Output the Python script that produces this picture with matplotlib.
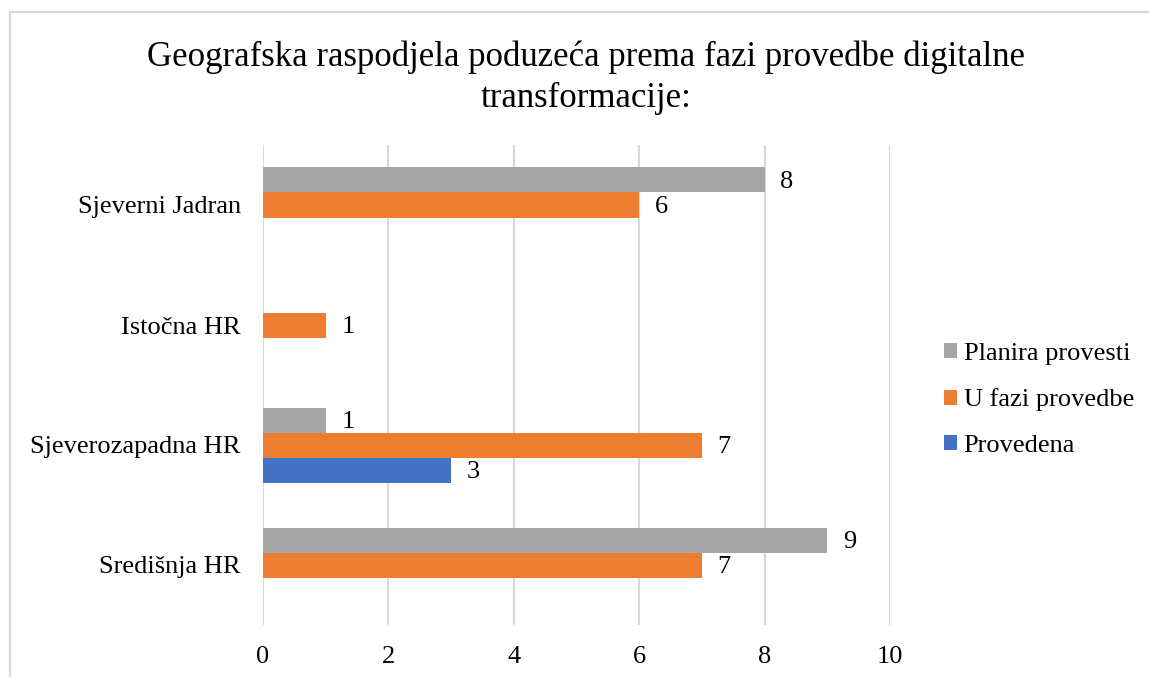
import matplotlib.pyplot as plt
import matplotlib.patches as mpatches
import numpy as np

regions = ['Središnja HR', 'Sjeverozapadna HR', 'Istočna HR', 'Sjeverni Jadran']
provedena = [0, 3, 0, 0]
u_fazi = [7, 7, 1, 6]
planira = [9, 1, 0, 8]
x_ticks = [0, 2, 4, 6, 8, 10]

c_blue = '#4472C4'
c_orange = '#ED7D31'
c_gray = '#A5A5A5'
grid_c = '#D9D9D9'

plt.rcParams['font.family'] = ['Liberation Serif', 'DejaVu Serif']
fs = 19

fig = plt.figure(figsize=(11.49, 6.77), dpi=100)
ax = fig.add_axes([263 / 1149, 1 - 625 / 677, (890 - 263) / 1149, (625 - 145) / 677])

y = np.arange(len(regions))
h = 25 / 120
series = [(provedena, -h, c_blue, 'Provedena'),
          (u_fazi, 0, c_orange, 'U fazi provedbe'),
          (planira, h, c_gray, 'Planira provesti')]

for vals, off, col, name in series:
    bars = ax.barh(y + off, vals, height=h, color=col, label=name, zorder=3)
    for b, v in zip(bars, vals):
        if v > 0:
            ax.text(v + 0.25, b.get_y() + b.get_height() / 2 - 0.02, str(v),
                    va='center', ha='left', fontsize=fs, color='#000000')

ax.set_xlim(0, 10)
ax.set_ylim(-0.5, 3.5)
ax.set_xticks(x_ticks)
ax.set_yticks(y)
ax.set_yticklabels(regions)
ax.tick_params(axis='both', length=0, labelsize=fs)
ax.tick_params(axis='y', pad=16)
ax.tick_params(axis='x', pad=15)
ax.grid(True, axis='x', color=grid_c, linewidth=1.5, zorder=0)
for s in ax.spines.values():
    s.set_visible(False)

fig.suptitle('Geografska raspodjela poduzeća prema fazi provedbe digitalne\ntransformacije:',
             x=586 / 1149, y=1 - 40 / 677, va='top', fontsize=25, linespacing=1.32)

handles, labels = ax.get_legend_handles_labels()
fig.legend(handles[::-1], labels[::-1], loc='center left',
           bbox_to_anchor=(920 / 1149, 1 - 400 / 677), frameon=False,
           fontsize=fs, handlelength=0.5, handleheight=0.5,
           handletextpad=0.25, labelspacing=0.9)

border = mpatches.Rectangle((10 / 1149, -0.05), 1.1, 1 - 12 / 677 + 0.05,
                            transform=fig.transFigure, fill=False,
                            edgecolor=grid_c, linewidth=1.5)
fig.patches.append(border)

fig.savefig('out.png', dpi=100)
